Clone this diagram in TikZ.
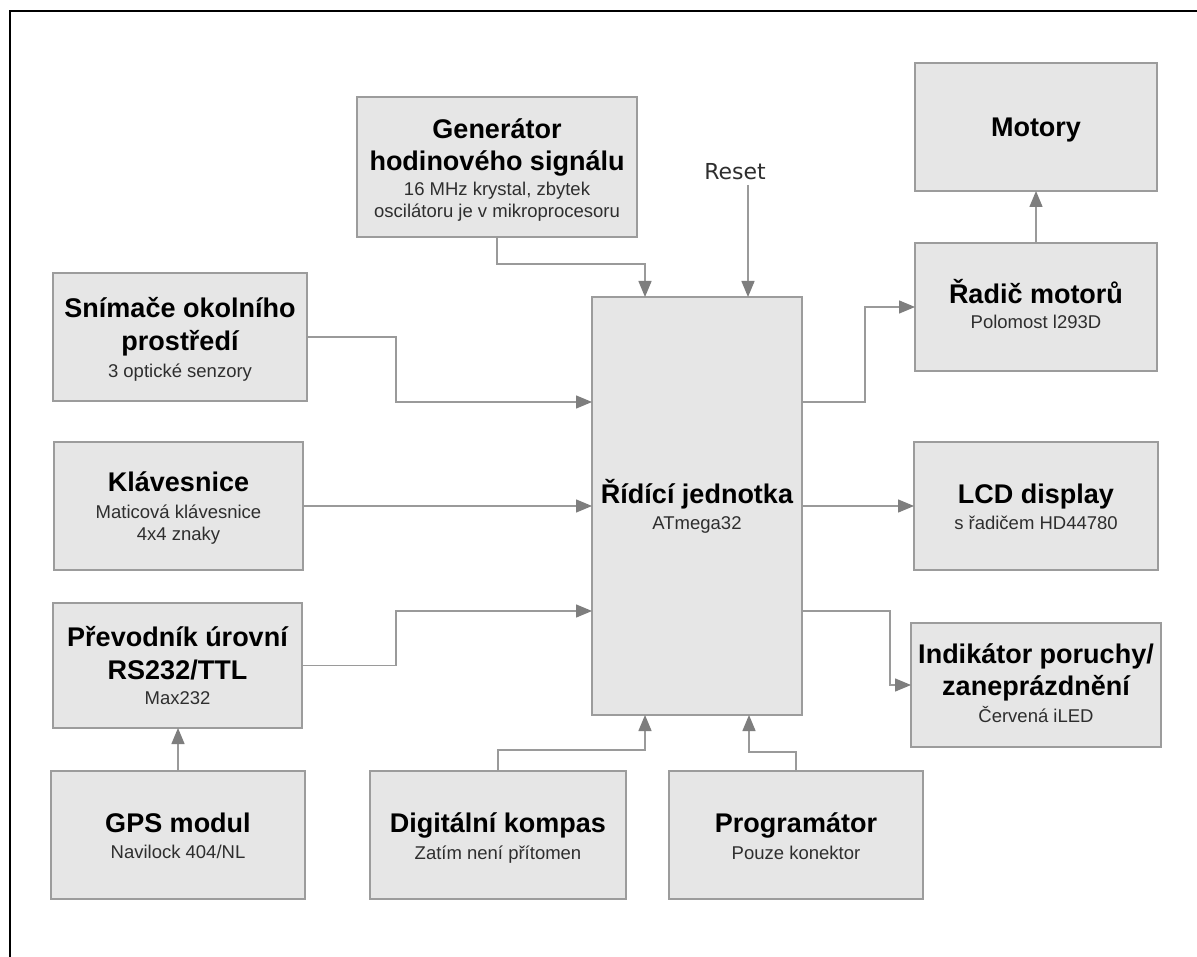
\documentclass[tikz,border=0pt]{standalone}
\usepackage{fontspec}
\setmainfont{Liberation Sans}
\newfontfamily\resetfnt{DejaVu Sans}
\usetikzlibrary{arrows.meta}
\definecolor{boxfill}{HTML}{E6E6E6}
\definecolor{boxline}{HTML}{9C9C9C}
\definecolor{lineg}{HTML}{9A9A9A}
\definecolor{tipg}{HTML}{7E7E7E}
\definecolor{subg}{HTML}{2E2E2E}
\newcommand\ttlfnt{\fontsize{27}{32}\selectfont\bfseries}
\newcommand\subfnt{\fontsize{18.5}{22}\selectfont}
\begin{document}
\begin{tikzpicture}[x=1pt,y=1pt,
  blk/.style={draw=boxline, fill=boxfill, line width=1.6pt, inner sep=0pt, outer sep=0pt},
  ttl/.style={font=\ttlfnt, anchor=base, inner sep=0pt, text=black},
  sbt/.style={font=\subfnt, anchor=base, inner sep=0pt, text=subg},
  conn/.style={draw=lineg, line width=1.4pt, -{Triangle[length=16pt,width=13pt,color=tipg]}}]
\useasboundingbox (0,0) rectangle (1197,-957);
\fill[white] (0,0) rectangle (1197,-957);
% frame
\draw[black, line width=2pt, line join=miter] (10,-962) -- (10,-11) -- (1202,-11);

% boxes
\node[blk, minimum width=280pt, minimum height=140pt] (gen) at (497,-167) {};
\node[blk, minimum width=242pt, minimum height=128pt] (mot) at (1036,-127) {};
\node[blk, minimum width=242pt, minimum height=128pt] (rad) at (1036,-307) {};
\node[blk, minimum width=254pt, minimum height=128pt] (snim) at (180,-337) {};
\node[blk, minimum width=249pt, minimum height=128pt] (klav) at (178.5,-506) {};
\node[blk, minimum width=249pt, minimum height=125pt] (prev) at (177.5,-665.5) {};
\node[blk, minimum width=254pt, minimum height=128pt] (gps) at (178,-835) {};
\node[blk, minimum width=256pt, minimum height=128pt] (komp) at (498,-835) {};
\node[blk, minimum width=254pt, minimum height=128pt] (prog) at (796,-835) {};
\node[blk, minimum width=210pt, minimum height=418pt] (main) at (697,-506) {};
\node[blk, minimum width=244pt, minimum height=128pt] (lcd) at (1036,-506) {};
\node[blk, minimum width=250pt, minimum height=124pt] (ind) at (1036,-685) {};

% texts
\node[ttl] (gen-a) at (497,-139) {Generátor};
\node[ttl] (gen-b) at (497,-171) {hodinového signálu};
\node[sbt] (gen-c) at (497,-196) {16 MHz krystal, zbytek};
\node[sbt] (gen-d) at (497,-218) {oscilátoru je v mikroprocesoru};

\node[ttl] (mot-a) at (1036,-137) {Motory};

\node[ttl] (rad-a) at (1036,-304) {Řadič motorů};
\node[sbt] (rad-b) at (1036,-329) {Polomost l293D};

\node[ttl] (snim-a) at (180,-318) {Snímače okolního};
\node[ttl] (snim-b) at (180,-351) {prostředí};
\node[sbt] (snim-c) at (180,-378) {3 optické senzory};

\node[ttl] (klav-a) at (178.5,-491) {Klávesnice};
\node[sbt] (klav-b) at (178.5,-518) {Maticová klávesnice};
\node[sbt] (klav-c) at (178.5,-540) {4x4 znaky};

\node[ttl] (main-a) at (697,-503) {Řídící jednotka};
\node[sbt] (main-b) at (697,-529) {ATmega32};

\node[ttl] (lcd-a) at (1036,-503) {LCD display};
\node[sbt] (lcd-b) at (1036,-529) {s řadičem HD44780};

\node[ttl] (prev-a) at (177.5,-646) {Převodník úrovní};
\node[ttl] (prev-b) at (177.5,-679) {RS232/TTL};
\node[sbt] (prev-c) at (177.5,-704) {Max232};

\node[ttl] (ind-a) at (1036,-663) {Indikátor poruchy/};
\node[ttl] (ind-b) at (1036,-695) {zaneprázdnění};
\node[sbt] (ind-c) at (1036,-722) {Červená iLED};

\node[ttl] (gps-a) at (178,-832) {GPS modul};
\node[sbt] (gps-b) at (178,-858) {Navilock 404/NL};

\node[ttl] (komp-a) at (498,-832) {Digitální kompas};
\node[sbt] (komp-b) at (498,-859) {Zatím není přítomen};

\node[ttl] (prog-a) at (796,-832) {Programátor};
\node[sbt] (prog-b) at (796,-859) {Pouze konektor};

\node[font=\resetfnt\fontsize{22}{26}\selectfont, text=subg, anchor=base, inner sep=0pt] (rstlbl) at (735,-179.5) {Reset};
\coordinate (rst) at (748,-185);

% connectors
\draw[conn] (gen.south) -- ++(0,-27) -| ([xshift=-52pt]main.north);
\draw[conn] (rst) -- (rst |- main.north);
\draw[conn] (snim.east) -- ++(89,0) |- ([yshift=104pt]main.west);
\draw[conn] (klav.east) -- (main.west);
\draw[conn] (prev.east) -- ++(94,0) |- ([yshift=-105pt]main.west);
\draw[conn] (gps.north) -- (gps.north |- prev.south);
\draw[conn] (komp.north) -- ++(0,21) -| ([xshift=-52pt]main.south);
\draw[conn] (prog.north) -- ++(0,19) -| ([xshift=52pt]main.south);
\draw[conn] ([yshift=104pt]main.east) -- ++(63,0) |- (rad.west);
\draw[conn] (rad.north) -- (mot.south);
\draw[conn] (main.east) -- (lcd.west);
\draw[conn] ([yshift=-105pt]main.east) -- ++(88,0) |- (ind.west);
\end{tikzpicture}
\end{document}
